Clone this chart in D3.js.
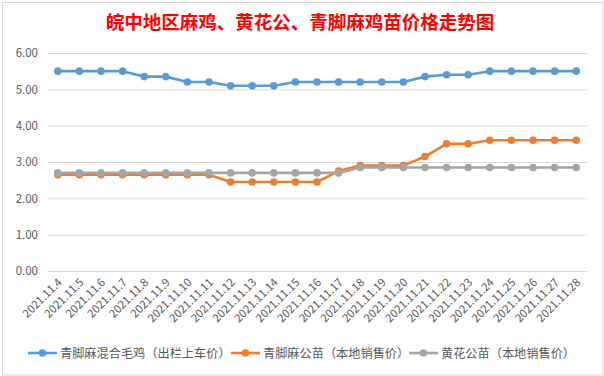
<!DOCTYPE html>
<html>
<head>
<meta charset="utf-8">
<script src="https://cdn.jsdelivr.net/npm/d3@7/dist/d3.min.js"></script>
<style>
    html, body { margin: 0; padding: 0; background: #ffffff; }
    svg { display: block; }
</style>
</head>
<body>
<div id="chart"></div>
<script>
const dates = [
    "2021.11.4", "2021.11.5", "2021.11.6", "2021.11.7", "2021.11.8", "2021.11.9",
    "2021.11.10", "2021.11.11", "2021.11.12", "2021.11.13", "2021.11.14", "2021.11.15",
    "2021.11.16", "2021.11.17", "2021.11.18", "2021.11.19", "2021.11.20", "2021.11.21",
    "2021.11.22", "2021.11.23", "2021.11.24", "2021.11.25", "2021.11.26", "2021.11.27",
    "2021.11.28",
];
const mixedPrice = [
    5.5, 5.5, 5.5, 5.5, 5.35, 5.35, 5.2, 5.2, 5.1, 5.1, 5.1, 5.2,
    5.2, 5.2, 5.2, 5.2, 5.2, 5.35, 5.4, 5.4, 5.5, 5.5, 5.5, 5.5, 5.5,
];
const qingjiaoChick = [
    2.65, 2.65, 2.65, 2.65, 2.65, 2.65, 2.65, 2.65, 2.45, 2.45, 2.45, 2.45,
    2.45, 2.75, 2.9, 2.9, 2.9, 3.15, 3.5, 3.5, 3.6, 3.6, 3.6, 3.6, 3.6,
];
const huanghuaChick = [
    2.7, 2.7, 2.7, 2.7, 2.7, 2.7, 2.7, 2.7, 2.7, 2.7, 2.7, 2.7,
    2.7, 2.7, 2.85, 2.85, 2.85, 2.85, 2.85, 2.85, 2.85, 2.85, 2.85, 2.85, 2.85,
];
const yTicks = [0, 1, 2, 3, 4, 5, 6];

const series = [
    {name: "青脚麻混合毛鸡（出栏上车价）", values: mixedPrice, color: "#5B9BD5"},
    {name: "青脚麻公苗（本地销售价）", values: qingjiaoChick, color: "#ED7D31"},
    {name: "黄花公苗（本地销售价）", values: huanghuaChick, color: "#A5A5A5"},
];

const outerWidth = 604;
const outerHeight = 376;
const margin = {top: 53, right: 17, bottom: 105, left: 47};
const width = outerWidth - margin.left - margin.right;
const height = outerHeight - margin.top - margin.bottom;
const font = "'Microsoft YaHei', 'Noto Sans CJK SC', sans-serif";

const svg = d3.select("#chart")
    .append("svg")
    .attr("width", outerWidth)
    .attr("height", outerHeight);

svg.append("rect")
    .attr("x", 2.5)
    .attr("y", 2.5)
    .attr("width", outerWidth - 3.5)
    .attr("height", outerHeight - 3.5)
    .attr("fill", "#ffffff")
    .attr("stroke", "#D9D9D9");

svg.append("text")
    .attr("x", 300)
    .attr("y", 29)
    .attr("text-anchor", "middle")
    .attr("fill", "#FF0000")
    .attr("font-family", "'Noto Sans CJK SC', sans-serif")
    .attr("font-weight", "bold")
    .attr("font-size", 18.5)
    .text("皖中地区麻鸡、黄花公、青脚麻鸡苗价格走势图");

const plot = svg.append("g")
    .attr("transform", `translate(${margin.left}, ${margin.top})`);

const x = d3.scaleBand()
    .domain(dates)
    .range([0, width]);
const y = d3.scaleLinear()
    .domain([0, 6])
    .range([height, 0]);

plot.append("g")
    .call(d3.axisLeft(y).tickValues(yTicks).tickSize(-width).tickFormat((d) => d3.format(".2f")(d)).tickPadding(9))
    .call((g) => g.select(".domain").remove())
    .call((g) => g.selectAll("line").attr("stroke", "#D9D9D9"))
    .call((g) => g.selectAll("text")
        .attr("fill", "#595959")
        .attr("font-family", font)
        .attr("font-size", 11.5));

plot.append("g")
    .attr("transform", `translate(0, ${height})`)
    .call(d3.axisBottom(x).tickSize(0).tickPadding(0))
    .call((g) => g.select(".domain").remove())
    .call((g) => g.selectAll("text")
        .attr("fill", "#595959")
        .attr("font-family", font)
        .attr("font-size", 11.3)
        .attr("text-anchor", "end")
        .attr("dy", 0)
        .attr("transform", "translate(5, 12) rotate(-45)"));

const line = d3.line()
    .x((d, i) => x(dates[i]) + x.bandwidth() / 2)
    .y((d) => y(d));

series.forEach((s) => {
    plot.append("path")
        .datum(s.values)
        .attr("fill", "none")
        .attr("stroke", s.color)
        .attr("stroke-width", 2.6)
        .attr("stroke-linejoin", "round")
        .attr("d", line);
    plot.selectAll(null)
        .data(s.values)
        .enter()
        .append("circle")
        .attr("cx", (d, i) => x(dates[i]) + x.bandwidth() / 2)
        .attr("cy", (d) => y(d))
        .attr("r", 3.8)
        .attr("fill", s.color);
});

const legendX = [28, 231, 409];
const legend = svg.append("g")
    .attr("transform", "translate(0, 353)");
series.forEach((s, index) => {
    const item = legend.append("g")
        .attr("transform", `translate(${legendX[index]}, 0)`);
    item.append("line")
        .attr("x1", 0)
        .attr("x2", 29)
        .attr("stroke", s.color)
        .attr("stroke-width", 2.6);
    item.append("circle")
        .attr("cx", 14.5)
        .attr("r", 3.8)
        .attr("fill", s.color);
    item.append("text")
        .attr("x", 32)
        .attr("y", 4.5)
        .attr("fill", "#595959")
        .attr("font-family", font)
        .attr("font-size", 12.2)
        .text(s.name);
});
</script>
</body>
</html>
